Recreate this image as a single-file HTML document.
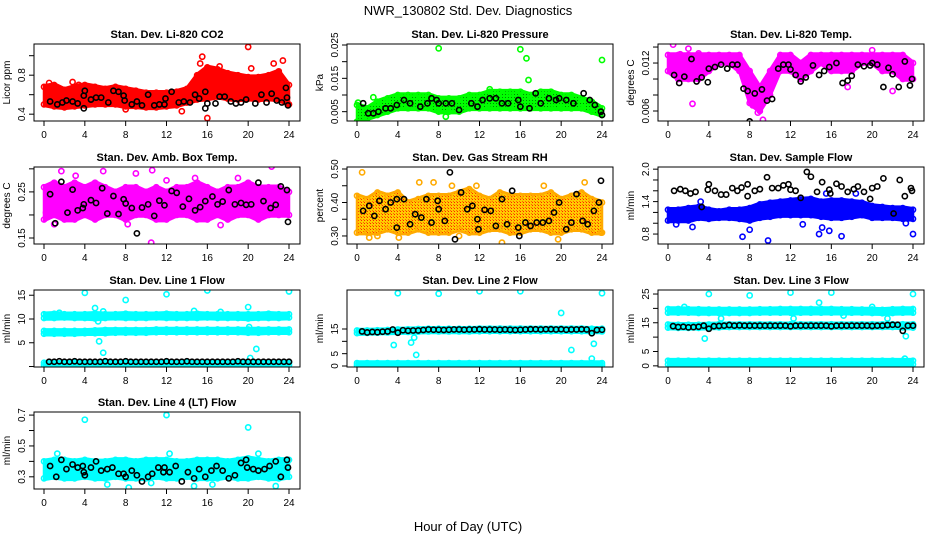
<!DOCTYPE html>
<html><head><meta charset="utf-8"><title>NWR_130802 Std. Dev. Diagnostics</title>
<style>
html,body{margin:0;padding:0;background:#fff;}
svg{display:block;font-family:"Liberation Sans",sans-serif;}
</style></head>
<body>
<svg id="chart" width="936" height="540" viewBox="0 0 936 540" xmlns="http://www.w3.org/2000/svg">
<defs>
<pattern id="dotsGreen" width="3" height="3" patternUnits="userSpaceOnUse"><rect width="3" height="3" fill="#00ff00"/><rect x="1" y="1" width="1" height="1" fill="#008800"/></pattern>
<pattern id="dotsOrange" width="3" height="3" patternUnits="userSpaceOnUse"><rect width="3" height="3" fill="#ffcc00"/><rect x="1" y="1" width="1" height="1" fill="#ff2200"/><rect x="0" y="0" width="1" height="1" fill="#ff6600"/></pattern>
</defs>
<text x="468" y="15" text-anchor="middle" font-size="13">NWR_130802 Std. Dev. Diagnostics</text>
<text x="468" y="531" text-anchor="middle" font-size="13">Hour of Day (UTC)</text>
</svg>
<script>
const hours = [0,1,2,3,4,5,6,7,8,9,10,11,12,13,14,15,16,17,18,19,20,21,22,23,24];
const halfHours = [0.5,1,1.5,2,2.5,3,3.5,4,4.5,5,5.5,6,6.5,7,7.5,8,8.5,9,9.5,10,10.5,11,11.5,12,12.5,13,13.5,14,14.5,15,15.5,16,16.5,17,17.5,18,18.5,19,19.5,20,20.5,21,21.5,22,22.5,23,23.5,24];
const xTicks = [0,4,8,12,16,20,24];

// Panel 1: CO2
const p1Lo = [0.50,0.48,0.47,0.48,0.49,0.50,0.50,0.50,0.48,0.48,0.47,0.47,0.48,0.49,0.52,0.55,0.56,0.58,0.56,0.55,0.56,0.55,0.56,0.55,0.50];
const p1Hi = [0.68,0.70,0.65,0.68,0.70,0.68,0.66,0.68,0.66,0.64,0.62,0.62,0.62,0.63,0.66,0.80,0.88,0.86,0.82,0.80,0.78,0.78,0.80,0.84,0.70];
const p1OutX = [15.3,15.5,16,20,20.3,22.5,23.4,0.5,3.4,8,2.8,17.2,13.5];
const p1OutY = [0.92,0.99,0.36,1.09,0.87,0.92,0.95,0.72,0.70,0.45,0.73,0.89,0.43];
const p1BlkX = [0.6,1.3,1.8,2.2,2.8,3.3,3.9,3.9,4.0,4.6,5.1,5.6,6.3,6.8,7.3,7.8,7.9,8.6,9.1,9.6,10.2,10.8,11.3,11.8,11.9,12.5,13.2,13.7,14.3,14.8,15.2,15.8,15.8,16,16.8,17.2,17.7,18.3,18.8,19.3,19.8,20.7,21.3,21.8,22.3,22.8,23.3,23.7,23.8,23.9];
const p1BlkY = [0.53,0.50,0.52,0.54,0.53,0.51,0.46,0.59,0.64,0.55,0.57,0.57,0.52,0.64,0.63,0.59,0.54,0.50,0.53,0.49,0.60,0.49,0.50,0.50,0.56,0.63,0.52,0.53,0.52,0.60,0.56,0.63,0.46,0.51,0.51,0.58,0.58,0.53,0.51,0.52,0.55,0.51,0.60,0.52,0.61,0.54,0.52,0.67,0.57,0.49];
const p1YTicks = [0.4,0.6,0.8,1.0];
const p1YLabels = ["0.4","","0.8",""];

// Panel 2: Pressure
const p2Lo = [0.002,0.003,0.004,0.005,0.006,0.006,0.006,0.006,0.005,0.005,0.005,0.006,0.006,0.006,0.006,0.006,0.006,0.006,0.006,0.006,0.006,0.006,0.006,0.005,0.004];
const p2Hi = [0.007,0.006,0.008,0.009,0.010,0.010,0.010,0.010,0.009,0.009,0.009,0.010,0.010,0.011,0.011,0.011,0.011,0.010,0.011,0.011,0.010,0.010,0.009,0.008,0.006];
const p2OutX = [8,16,16.6,24,16.8,1.6,0.1,13,17.5,8.7];
const p2OutY = [0.024,0.0237,0.021,0.0205,0.0145,0.0093,0.0077,0.0117,0.0103,0.0035];
const p2BlkX = [0.6,1.1,1.6,2.1,2.8,3.3,3.9,4.6,5.2,6.2,6.9,7.3,7.8,8,8.7,9.3,10,11.2,11.8,12.3,13,13.6,14.2,14.8,15.8,16,16.9,17.5,18,18.8,19.5,19.8,20.5,21.2,22.2,22.8,23.3,23.9,24];
const p2BlkY = [0.0075,0.0045,0.0045,0.005,0.006,0.006,0.007,0.0085,0.0075,0.0065,0.0075,0.009,0.0085,0.0075,0.0075,0.0075,0.0055,0.0075,0.0065,0.0085,0.009,0.009,0.0075,0.0075,0.0085,0.0065,0.006,0.0105,0.0075,0.009,0.0085,0.009,0.0085,0.0075,0.0105,0.0085,0.007,0.005,0.004];
const p2YTicks = [0.005,0.010,0.015,0.020,0.025];
const p2YLabels = ["0.005","","0.015","","0.025"];

// Panel 3: Li-820 Temp
const p3Lo = [0.011,0.010,0.010,0.010,0.011,0.012,0.012,0.011,0.007,0.006,0.008,0.011,0.011,0.010,0.011,0.012,0.011,0.011,0.011,0.012,0.012,0.011,0.011,0.010,0.010];
const p3Hi = [0.013,0.013,0.013,0.013,0.013,0.013,0.013,0.013,0.011,0.009,0.011,0.013,0.013,0.012,0.013,0.013,0.013,0.013,0.013,0.013,0.013,0.013,0.013,0.013,0.012];
const p3OutX = [0.5,2,2.4,8.3,9.3,8.8,17.6,20,22,1.2,3,9.7];
const p3OutY = [0.0143,0.0138,0.0069,0.0067,0.0049,0.0058,0.009,0.0136,0.0085,0.0131,0.0132,0.0095];
const p3BlkX = [0.6,1.1,1.6,2.3,2.8,3.3,3.9,4,4.6,5.2,5.8,6.3,6.8,7.4,7.8,8,8.5,9.2,9.7,10.2,10.8,11.3,11.8,12,12.5,13,13.5,14.2,14.8,15.3,15.8,16.5,17.1,17.6,18,18.6,19.2,19.8,20,20.5,21.1,21.6,22,22.6,23.2,23.7,23.9];
const p3BlkY = [0.0105,0.0095,0.0103,0.0125,0.0097,0.0102,0.0096,0.0113,0.0115,0.0118,0.0113,0.0118,0.0118,0.0088,0.0085,0.0047,0.0082,0.0087,0.0073,0.0075,0.0113,0.0118,0.0118,0.0112,0.0105,0.0097,0.0102,0.0117,0.0105,0.0110,0.0115,0.0120,0.0095,0.0098,0.0104,0.0118,0.0116,0.0117,0.0120,0.0118,0.0090,0.0114,0.0106,0.0090,0.0122,0.0092,0.0100];
const p3YTicks = [0.006,0.008,0.010,0.012,0.014];
const p3YLabels = ["0.006","","","0.012",""];

// Panel 4: Amb Box Temp
const p4Lo = [0.19,0.20,0.19,0.19,0.20,0.19,0.20,0.20,0.19,0.20,0.20,0.19,0.19,0.20,0.20,0.19,0.19,0.20,0.19,0.20,0.20,0.19,0.20,0.20,0.20];
const p4Hi = [0.26,0.27,0.26,0.27,0.26,0.27,0.26,0.25,0.26,0.26,0.25,0.26,0.25,0.26,0.26,0.27,0.26,0.25,0.26,0.26,0.27,0.26,0.26,0.26,0.25];
const p4OutX = [1.7,5.8,10.5,10.6,22.3,9,14.8,1,3.1,8.2,17.3,0.2,12,19];
const p4OutY = [0.295,0.295,0.14,0.297,0.305,0.29,0.28,0.18,0.285,0.18,0.178,0.205,0.275,0.28];
const p4BlkX = [0.6,1.1,1.7,2.3,2.8,3.3,3.8,3.9,4.6,5.1,5.7,6.2,6.8,7.3,7.8,8,8.6,9.1,9.6,10.2,10.8,11.3,11.8,12.5,13,13.6,14.2,14.8,15.3,15.8,16.5,17,17.5,18.1,18.7,19.3,19.8,20.3,21,21.5,22.2,22.7,23.2,23.8,23.9];
const p4BlkY = [0.245,0.182,0.272,0.205,0.255,0.21,0.215,0.223,0.232,0.226,0.258,0.203,0.241,0.202,0.234,0.225,0.215,0.16,0.216,0.223,0.198,0.231,0.221,0.252,0.248,0.218,0.235,0.21,0.217,0.23,0.24,0.223,0.229,0.254,0.223,0.226,0.222,0.223,0.27,0.23,0.215,0.222,0.262,0.254,0.185];
const p4YTicks = [0.15,0.20,0.25,0.30];
const p4YLabels = ["0.15","","0.25",""];

// Panel 5: Gas Stream RH
const p5Lo = [0.31,0.31,0.31,0.32,0.31,0.31,0.32,0.31,0.31,0.31,0.32,0.31,0.31,0.32,0.32,0.31,0.31,0.32,0.32,0.31,0.31,0.32,0.32,0.31,0.31];
const p5Hi = [0.42,0.41,0.43,0.42,0.43,0.40,0.41,0.42,0.42,0.42,0.43,0.44,0.42,0.41,0.43,0.42,0.42,0.42,0.42,0.43,0.41,0.42,0.43,0.41,0.40];
const p5OutX = [0.5,6.1,7.5,9.3,11.7,14.2,18.3,19.7,22.3,2,1.2,4.1,10,23.9];
const p5OutY = [0.49,0.46,0.46,0.45,0.45,0.28,0.45,0.29,0.46,0.30,0.295,0.295,0.30,0.31];
const p5BlkX = [0.6,1.2,1.7,2.2,2.8,3.3,3.9,3.9,4.6,5.2,5.7,6.3,6.8,7.3,7.9,8,8.6,9.1,9.6,10.2,10.8,11.3,11.8,11.9,12.5,13.1,13.6,14.2,14.7,15.2,15.8,15.9,16.5,17,17.6,18.2,18.8,19.3,19.8,20.5,21,21.5,22.1,22.6,23.2,23.7,23.9];
const p5BlkY = [0.375,0.39,0.36,0.405,0.38,0.40,0.41,0.325,0.41,0.335,0.365,0.355,0.41,0.34,0.405,0.38,0.345,0.49,0.29,0.43,0.38,0.39,0.35,0.32,0.378,0.375,0.33,0.41,0.335,0.435,0.325,0.30,0.34,0.33,0.34,0.34,0.345,0.37,0.40,0.32,0.34,0.425,0.345,0.335,0.375,0.40,0.465];
const p5YTicks = [0.30,0.35,0.40,0.45,0.50];
const p5YLabels = ["0.30","","0.40","","0.50"];

// Panel 6: Sample Flow
const p6Lo = [1.05,1.05,1.05,1.10,1.08,1.10,1.10,1.08,1.05,1.10,1.12,1.15,1.15,1.15,1.15,1.12,1.10,1.10,1.12,1.15,1.10,1.10,1.10,1.08,1.08];
const p6Hi = [1.25,1.25,1.28,1.30,1.25,1.22,1.25,1.25,1.28,1.35,1.38,1.40,1.42,1.44,1.45,1.40,1.42,1.42,1.40,1.38,1.32,1.30,1.28,1.28,1.25];
const p6OutX = [7.3,9.8,14.8,15.8,17,24,8,15.5,0.8,2.4,3.2,13.2,18.4,23.3,15.1];
const p6OutY = [0.75,0.68,0.80,0.86,0.76,0.80,0.88,1.55,0.98,0.93,1.40,0.98,1.55,1.00,0.92];
const p6BlkX = [0.6,1.2,1.7,2.2,2.7,3.3,3.9,4,4.6,5.2,5.7,6.3,6.8,7.2,7.8,7.8,8.5,9,9.7,10.2,10.8,11.3,11.8,12,12.5,13,13.6,14,14.6,15.1,15.8,15.9,16.5,17,17.6,18.2,18.6,19.2,19.8,20,20.5,21.1,22.1,22.7,23.2,23.8,23.9];
const p6BlkY = [1.60,1.63,1.60,1.55,1.58,1.30,1.62,1.72,1.60,1.53,1.53,1.65,1.60,1.66,1.50,1.72,1.60,1.63,1.85,1.65,1.65,1.70,1.72,1.62,1.60,1.47,1.95,1.86,1.58,1.76,1.62,1.55,1.73,1.68,1.58,1.63,1.68,1.58,1.45,1.65,1.68,1.83,1.18,1.80,1.50,1.65,1.60];
const p6YTicks = [0.8,1.0,1.2,1.4,1.6,1.8,2.0];
const p6YLabels = ["0.8","","","1.4","","","2.0"];

// Panel 7: Line 1 Flow (three bands)
const p7B1Lo = [10.2,10.2,10.3,10.2,10.2,10.1,10.2,10.3,10.2,10.2,10.2,10.3,10.2,10.2,10.2,10.2,10.3,10.2,10.2,10.2,10.1,10.2,10.2,10.2,10.3];
const p7B1Hi = [11.0,11.1,11.0,11.0,11.0,11.1,11.0,11.0,11.1,11.0,11.0,11.0,11.1,11.0,11.0,11.1,11.0,11.0,11.0,11.0,11.0,11.0,11.1,11.0,11.0];
const p7B2Lo = [6.9,6.9,6.9,6.9,7.0,7.0,7.0,7.1,7.1,7.1,7.1,7.2,7.2,7.2,7.2,7.2,7.2,7.2,7.2,7.2,7.1,7.1,7.2,7.2,7.2];
const p7B2Hi = [7.5,7.5,7.5,7.5,7.5,7.6,7.7,7.7,7.7,7.7,7.7,7.8,7.8,7.8,7.8,7.8,7.8,7.8,7.8,7.8,7.8,7.8,7.8,7.8,7.8];
const p7B3Lo = [0.3,0.3,0.3,0.3,0.3,0.3,0.3,0.3,0.3,0.3,0.3,0.3,0.3,0.3,0.3,0.3,0.3,0.3,0.3,0.3,0.3,0.3,0.3,0.3,0.3];
const p7B3Hi = [0.8,0.8,0.8,0.8,0.8,0.8,0.8,0.8,0.8,0.8,0.8,0.8,0.8,0.8,0.8,0.8,0.8,0.8,0.8,0.8,0.8,0.8,0.8,0.8,0.8];
const p7OutX = [4,8,12,16,24,20,5,5.3,5.4,5.8,5.8,14.7,20.8,20.2,20.1,1.5,17.3];
const p7OutY = [15.5,14,15.2,16,15.8,12.5,12.3,9.5,5.3,2.9,11.6,11.7,3.7,1.8,8.3,11.3,11.5];
const p7BlkY = [1.0,1.0,1.1,1.0,1.0,1.1,1.0,1.0,1.0,1.0,1.0,1.1,1.0,1.0,1.0,1.1,1.0,1.0,1.0,1.0,1.0,1.0,1.0,1.1,1.0,1.0,1.0,1.1,1.0,1.0,1.0,1.0,1.0,1.0,1.0,1.0,1.0,1.1,1.0,1.0,1.0,1.0,1.0,1.0,1.0,1.0,1.0,1.0];
const p7YTicks = [0,5,10,15];
const p7YLabels = ["","5","10","15"];

// Panel 8: Line 2 Flow
const p8B1Lo = [13.3,13.4,13.5,13.6,13.7,13.8,13.9,14.0,14.0,14.0,14.0,14.0,14.1,14.1,14.1,14.1,14.1,14.1,14.1,14.1,14.1,14.1,14.1,14.0,14.0];
const p8B1Hi = [14.4,14.4,14.5,14.6,14.8,14.9,15.0,15.1,15.1,15.1,15.1,15.1,15.2,15.2,15.2,15.2,15.2,15.2,15.2,15.2,15.2,15.2,15.2,15.1,15.1];
const p8B2Lo = [0.3,0.3,0.3,0.3,0.3,0.3,0.3,0.3,0.3,0.3,0.3,0.3,0.3,0.3,0.3,0.3,0.3,0.3,0.3,0.3,0.3,0.3,0.3,0.3,0.3];
const p8B2Hi = [1.2,1.2,1.2,1.2,1.2,1.2,1.2,1.2,1.2,1.2,1.2,1.2,1.2,1.2,1.2,1.2,1.2,1.2,1.2,1.2,1.2,1.2,1.2,1.2,1.2];
const p8OutX = [4,8,12,16,24,20,3.6,5.3,5.6,5.8,21,23.2,23];
const p8OutY = [29.5,29.3,30.3,30.3,29.5,21.5,8.5,9.5,11.5,4.5,6.5,9,3];
const p8BlkY = [14.0,13.6,13.8,13.7,13.9,14.0,14.8,13.5,14.5,14.3,14.4,14.4,14.6,14.8,14.7,14.7,14.6,14.7,14.8,14.8,14.7,14.8,14.8,14.9,14.8,14.8,14.8,14.7,14.8,14.7,14.6,14.7,14.8,14.9,14.9,14.8,14.9,14.9,14.8,14.9,14.7,14.8,14.8,14.9,14.8,13.3,14.6,14.7];
const p8YTicks = [0,5,10,15];
const p8YLabels = ["0","5","","15"];

// Panel 9: Line 3 Flow
const p9B1Lo = [18.5,18.5,18.5,18.4,18.4,18.4,18.4,18.4,18.4,18.5,18.5,18.5,18.5,18.5,18.5,18.5,18.5,18.5,18.5,18.5,18.4,18.3,18.4,18.5,18.5];
const p9B1Hi = [19.8,19.8,19.7,19.7,19.6,19.6,19.6,19.6,19.6,19.7,19.7,19.8,19.8,19.8,19.8,19.8,19.8,19.7,19.7,19.6,19.6,19.5,19.7,19.8,19.8];
const p9B2Lo = [13.3,13.2,13.2,13.2,13.3,13.4,13.5,13.5,13.5,13.5,13.5,13.5,13.5,13.5,13.5,13.5,13.5,13.5,13.5,13.5,13.5,13.5,13.5,13.4,13.3];
const p9B2Hi = [14.4,14.3,14.3,14.3,14.4,14.5,14.5,14.5,14.5,14.5,14.5,14.5,14.5,14.5,14.5,14.5,14.5,14.5,14.5,14.5,14.5,14.5,14.5,14.5,14.5];
const p9B3Lo = [0.5,0.5,0.5,0.5,0.5,0.5,0.5,0.5,0.5,0.5,0.5,0.5,0.5,0.5,0.5,0.5,0.5,0.5,0.5,0.5,0.5,0.5,0.5,0.5,0.5];
const p9B3Hi = [1.8,1.8,1.8,1.8,1.8,1.8,1.8,1.8,1.8,1.8,1.8,1.8,1.8,1.8,1.8,1.8,1.8,1.8,1.8,1.8,1.8,1.8,1.8,1.8,1.8];
const p9OutX = [4,8,12,16,24,14.8,3.6,23.3,23.2,5.2,12.3,1.6,20,12.1,21.5,17.2];
const p9OutY = [25,24.5,25.5,25.5,25,22,9.5,10.3,2.5,16.5,16.5,20.5,20.5,18.5,16.5,17.5];
const p9BlkY = [13.8,13.5,13.6,13.4,13.5,13.6,14.0,12.9,13.8,13.9,14.0,14.2,14.0,14.1,14.0,14.0,14.0,14.0,14.0,14.0,14.0,14.0,14.0,13.8,14.0,14.0,14.0,14.0,14.0,14.0,14.0,13.8,14.0,14.0,14.0,14.0,14.0,14.0,14.0,13.9,14.0,14.0,14.2,14.3,14.3,12.2,14.0,14.0];
const p9YTicks = [0,5,10,15,20,25];
const p9YLabels = ["0","5","","15","","25"];

// Panel 10: Line 4 (LT) Flow
const p10Lo = [0.29,0.30,0.29,0.29,0.30,0.29,0.29,0.30,0.29,0.29,0.29,0.30,0.29,0.29,0.30,0.29,0.29,0.29,0.30,0.29,0.29,0.30,0.29,0.29,0.30];
const p10Hi = [0.40,0.41,0.41,0.40,0.41,0.40,0.40,0.41,0.41,0.40,0.41,0.41,0.41,0.40,0.40,0.41,0.41,0.41,0.40,0.41,0.42,0.41,0.40,0.41,0.41];
const p10OutX = [4,12,20,1.3,12.3,21,8.3,14.7,22.7,16.5,6.2,0.4,10.5];
const p10OutY = [0.67,0.70,0.62,0.45,0.45,0.45,0.23,0.24,0.24,0.25,0.25,0.30,0.26];
const p10BlkX = [0.6,1.2,1.7,2.2,2.8,3.3,3.8,3.9,4,4.6,5.1,5.6,6.2,6.7,7.3,7.8,8,8.6,9.1,9.6,10.2,10.6,11.2,11.7,11.8,12.3,12.9,13.5,14.1,14.7,15.2,15.8,16.4,16.9,17.5,18.1,18.7,19.3,19.8,19.9,20.5,21,21.6,22.1,22.7,23.2,23.8,23.9];
const p10BlkY = [0.37,0.30,0.41,0.35,0.38,0.36,0.37,0.33,0.31,0.36,0.40,0.34,0.35,0.36,0.32,0.32,0.30,0.34,0.31,0.27,0.30,0.32,0.36,0.33,0.36,0.33,0.37,0.27,0.33,0.29,0.35,0.30,0.34,0.37,0.34,0.29,0.31,0.39,0.41,0.36,0.35,0.34,0.35,0.37,0.40,0.30,0.41,0.36];
const p10YTicks = [0.3,0.4,0.5,0.6,0.7];
const p10YLabels = ["0.3","","0.5","","0.7"];

const NS = "http://www.w3.org/2000/svg";
const svg = document.getElementById('chart');
const colLeft = [34, 347, 658];
const rowTop = [44, 167, 290, 412];
const PW = 266, PH = 77;

function mk(tag, attrs, parent) {
  const e = document.createElementNS(NS, tag);
  for (const k in attrs) e.setAttribute(k, attrs[k]);
  (parent || svg).appendChild(e);
  return e;
}

function panel(cfg) {
  const L = colLeft[cfg.col], T = rowTop[cfg.row], R = L + PW, B = T + PH;
  const g = mk('g', {});
  
  
  const xs = h => L + 10 + (h / 24) * (PW - 21);
  const ys = v => B - (v - cfg.ymin) / (cfg.ymax - cfg.ymin) * PH;
  const clip = 'clip-' + cfg.name;
  const cp = mk('clipPath', {id: clip}, g);
  mk('rect', {x: L, y: T, width: PW, height: PH}, cp);
  const data = mk('g', {'clip-path': 'url(#' + clip + ')'}, g);

  cfg.bands.forEach((bd, bi) => {
    const lo = bd[0], hi = bd[1];
    let pts = [];
    for (let i = 0; i < hours.length; i++) pts.push(xs(hours[i]) + ',' + (ys(hi[i]) - 1.5));
    for (let i = hours.length - 1; i >= 0; i--) pts.push(xs(hours[i]) + ',' + (ys(lo[i]) + 1.5));
    const poly = mk('polygon', {points: pts.join(' '), fill: cfg.fill, stroke: cfg.color, 'stroke-width': 2.5, 'stroke-linejoin': 'round'}, data);
    
    
    for (let i = 0; i < hours.length; i++) {
      [lo[i], hi[i]].forEach(v => {
        const c = mk('circle', {cx: xs(hours[i]), cy: ys(v), r: 2.6, fill: 'none', stroke: cfg.color, 'stroke-width': 1.5}, data);
        
        
      });
    }
  });
  cfg.outX.forEach((h, i) => {
    const c = mk('circle', {cx: xs(h), cy: ys(cfg.outY[i]), r: 2.6, fill: 'none', stroke: cfg.color, 'stroke-width': 1.6}, data);
    
    
  });
  cfg.blkX.forEach((h, i) => {
    const c = mk('circle', {cx: xs(h), cy: ys(cfg.blkY[i]), r: 2.6, fill: 'none', stroke: '#000', 'stroke-width': 1.6}, data);
    
    
  });

  const box = mk('rect', {x: L, y: T, width: PW, height: PH, fill: 'none', stroke: '#000', 'stroke-width': 1}, g);
  
  

  const xa = mk('g', {}, g);
  
  
  mk('line', {x1: xs(0), x2: xs(24), y1: B, y2: B, stroke: '#000'}, xa);
  xTicks.forEach(t => {
    mk('line', {x1: xs(t), x2: xs(t), y1: B, y2: B + 5, stroke: '#000'}, xa);
    const tx = mk('text', {x: xs(t), y: B + 17, 'text-anchor': 'middle', 'font-size': 10}, xa);
    tx.textContent = t;
  });
  const ya = mk('g', {}, g);
  
  
  const vt = cfg.yTicks.filter(v => ys(v) >= T - 0.5 && ys(v) <= B + 0.5);
  mk('line', {x1: L, x2: L, y1: ys(vt[0]), y2: ys(vt[vt.length - 1]), stroke: '#000'}, ya);
  cfg.yTicks.forEach((t, i) => {
    const y = ys(t);
    if (y < T - 0.5 || y > B + 0.5) return;
    mk('line', {x1: L - 5, x2: L, y1: y, y2: y, stroke: '#000'}, ya);
    if (cfg.yLabels[i]) {
      const tx = mk('text', {x: L - 9, y: y, 'text-anchor': 'middle', 'font-size': 10, transform: 'rotate(-90 ' + (L - 9) + ' ' + y + ')'}, ya);
      tx.textContent = cfg.yLabels[i];
    }
  });
  const yt = mk('text', {x: L - 24, y: (T + B) / 2, 'text-anchor': 'middle', 'font-size': 10, transform: 'rotate(-90 ' + (L - 24) + ' ' + ((T + B) / 2) + ')'}, g);
  
  
  yt.textContent = cfg.ylab;
  const ti = mk('text', {x: (L + R) / 2, y: T - 6, 'text-anchor': 'middle', 'font-size': 11, 'font-weight': 'bold'}, g);
  
  
  ti.textContent = cfg.title;
}

panel({name:'co2', title:'Stan. Dev. Li-820 CO2', ylab:'Licor ppm', col:0, row:0, ymin:0.33, ymax:1.12, color:'#ff0000', fill:'#ff0000', bands:[[p1Lo,p1Hi]], outX:p1OutX, outY:p1OutY, blkX:p1BlkX, blkY:p1BlkY, yTicks:p1YTicks, yLabels:p1YLabels});
panel({name:'pressure', title:'Stan. Dev. Li-820 Pressure', ylab:'kPa', col:1, row:0, ymin:0.0022, ymax:0.0253, color:'#00ff00', fill:'url(#dotsGreen)', bands:[[p2Lo,p2Hi]], outX:p2OutX, outY:p2OutY, blkX:p2BlkX, blkY:p2BlkY, yTicks:p2YTicks, yLabels:p2YLabels});
panel({name:'li820-temp', title:'Stan. Dev. Li-820 Temp.', ylab:'degrees C', col:2, row:0, ymin:0.00475, ymax:0.01438, color:'#ff00ff', fill:'#ff00ff', bands:[[p3Lo,p3Hi]], outX:p3OutX, outY:p3OutY, blkX:p3BlkX, blkY:p3BlkY, yTicks:p3YTicks, yLabels:p3YLabels});
panel({name:'amb-box-temp', title:'Stan. Dev. Amb. Box Temp.', ylab:'degrees C', col:0, row:1, ymin:0.137, ymax:0.304, color:'#ff00ff', fill:'#ff00ff', bands:[[p4Lo,p4Hi]], outX:p4OutX, outY:p4OutY, blkX:p4BlkX, blkY:p4BlkY, yTicks:p4YTicks, yLabels:p4YLabels});
panel({name:'gas-rh', title:'Stan. Dev. Gas Stream RH', ylab:'percent', col:1, row:1, ymin:0.276, ymax:0.506, color:'#ffaa00', fill:'url(#dotsOrange)', bands:[[p5Lo,p5Hi]], outX:p5OutX, outY:p5OutY, blkX:p5BlkX, blkY:p5BlkY, yTicks:p5YTicks, yLabels:p5YLabels});
panel({name:'sample-flow', title:'Stan. Dev. Sample Flow', ylab:'ml/min', col:2, row:1, ymin:0.616, ymax:2.04, color:'#0000ff', fill:'#0000ff', bands:[[p6Lo,p6Hi]], outX:p6OutX, outY:p6OutY, blkX:p6BlkX, blkY:p6BlkY, yTicks:p6YTicks, yLabels:p6YLabels});
panel({name:'line1-flow', title:'Stan. Dev. Line 1 Flow', ylab:'ml/min', col:0, row:2, ymin:-0.1, ymax:16.1, color:'#00ffff', fill:'#00ffff', bands:[[p7B1Lo,p7B1Hi],[p7B2Lo,p7B2Hi],[p7B3Lo,p7B3Hi]], outX:p7OutX, outY:p7OutY, blkX:halfHours, blkY:p7BlkY, yTicks:p7YTicks, yLabels:p7YLabels});
panel({name:'line2-flow', title:'Stan. Dev. Line 2 Flow', ylab:'ml/min', col:1, row:2, ymin:-0.4, ymax:30.8, color:'#00ffff', fill:'#00ffff', bands:[[p8B1Lo,p8B1Hi],[p8B2Lo,p8B2Hi]], outX:p8OutX, outY:p8OutY, blkX:halfHours, blkY:p8BlkY, yTicks:p8YTicks, yLabels:p8YLabels});
panel({name:'line3-flow', title:'Stan. Dev. Line 3 Flow', ylab:'ml/min', col:2, row:2, ymin:-0.4, ymax:26.4, color:'#00ffff', fill:'#00ffff', bands:[[p9B1Lo,p9B1Hi],[p9B2Lo,p9B2Hi],[p9B3Lo,p9B3Hi]], outX:p9OutX, outY:p9OutY, blkX:halfHours, blkY:p9BlkY, yTicks:p9YTicks, yLabels:p9YLabels});
panel({name:'line4-flow', title:'Stan. Dev. Line 4 (LT) Flow', ylab:'ml/min', col:0, row:3, ymin:0.221, ymax:0.72, color:'#00ffff', fill:'#00ffff', bands:[[p10Lo,p10Hi]], outX:p10OutX, outY:p10OutY, blkX:p10BlkX, blkY:p10BlkY, yTicks:p10YTicks, yLabels:p10YLabels});
</script>
</body></html>
